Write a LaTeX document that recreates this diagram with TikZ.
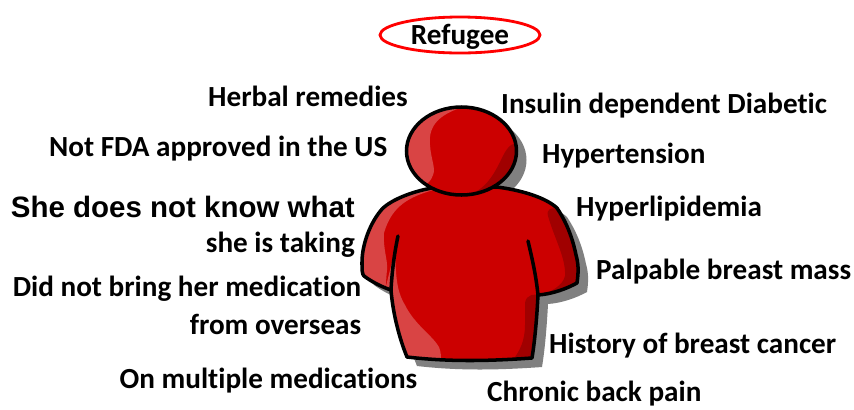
\documentclass[tikz,border=0pt]{standalone}
\usepackage{fontspec}
\setmainfont[Ligatures={NoCommon}]{Carlito}
\newfontfamily\arialfont{Liberation Sans}
\definecolor{bodyred}{HTML}{CC0000}
\definecolor{lightred}{HTML}{D94444}
\definecolor{darkred}{HTML}{A00000}
\definecolor{shadowgray}{HTML}{808080}
\tikzset{
  lbl/.style={
    inner sep=0pt,
    yshift=-0.06cm,
    font=\fontsize{24.9}{28}\selectfont\bfseries,
    text=black
  },
  lblleft/.style={lbl, anchor=east},
  lblright/.style={lbl, anchor=west},
  lblarial/.style={
    inner sep=0pt,
    anchor=east,
    font=\arialfont\fontsize{25.15}{28}\selectfont\bfseries
  },
  ring/.style={
    draw=red,
    line width=2.4pt,
    ellipse,
    fill=white
  },
  headpath/.style={
    insert path={(461.5,151) ellipse [x radius=55, y radius=44]}
  },
  bodypath/.style={
    insert path={
      (432,188) .. controls (410,192) and (392,200) .. (383,208)
      .. controls (370,222) and (362,245) .. (362,262)
      .. controls (362,270) and (362,274) .. (364,276)
      .. controls (372,282) and (382,287) .. (391,290)
      .. controls (393,315) and (400,340) .. (407,357)
      .. controls (450,362) and (490,361) .. (532,358)
      .. controls (535,340) and (537,315) .. (538,295)
      .. controls (552,294) and (566,289) .. (577,283)
      .. controls (579,270) and (578,262) .. (576,255)
      .. controls (572,235) and (565,220) .. (557,208)
      .. controls (545,197) and (520,190) .. (497,187) -- cycle
    }
  },
  outline/.style={draw=black, line width=3pt, line join=round, line cap=round}
}
\usetikzlibrary{shapes.geometric}
\begin{document}
\begin{tikzpicture}[x=0.03cm, y=-0.03cm]
  \useasboundingbox (0,0) rectangle (854,409);

  % shadow
  \begin{scope}[shift={(10,9)}]
    \fill[shadowgray, bodypath];
    \fill[shadowgray, headpath];
  \end{scope}

  % body
  \fill[bodyred, bodypath];
  \begin{scope}
    \clip[bodypath];
    \fill[lightred] (433,190) .. controls (410,197) and (392,205) .. (384,233)
      .. controls (383,250) and (388,260) .. (387,270)
      .. controls (386,280) and (386,285) .. (385,292) -- (350,290) -- (350,185) -- cycle;
    \fill[lightred] (395,250) .. controls (396,275) and (396,290) .. (405,305)
      .. controls (415,325) and (432,335) .. (439,347)
      .. controls (441,352) and (441,356) .. (441,362) -- (400,362) -- (385,290) -- cycle;
    \fill[darkred] (548,216) .. controls (546,209) and (552,207) .. (556,209)
      -- (590,200) -- (590,295) -- (538,296)
      .. controls (552,292) and (563,285) .. (565,276)
      .. controls (566,258) and (555,240) .. (548,216) -- cycle;
    \fill[darkred] (525,303) .. controls (526,294) and (536,293) .. (540,296)
      -- (545,362) -- (511,362)
      .. controls (520,352) and (525,340) .. (525,325) -- cycle;
  \end{scope}
  \draw[outline, bodypath];
  \draw[outline] (398,236) .. controls (394,255) and (392,272) .. (391,290);
  \draw[outline] (528,241) .. controls (532,258) and (536,275) .. (538,295);

  % head
  \fill[bodyred, headpath];
  \begin{scope}
    \clip[headpath];
    \fill[lightred] (460,108) .. controls (440,115) and (428,125) .. (430,145)
      .. controls (431,160) and (436,168) .. (433,175)
      .. controls (431,181) and (428,183) .. (425,185) -- (390,190) -- (390,100) -- cycle;
    \fill[darkred] (517,143) .. controls (508,144) and (505,152) .. (500,162)
      .. controls (492,178) and (485,188) .. (470,195) -- (530,200) -- (530,140) -- cycle;
  \end{scope}
  \draw[outline, headpath];

  \node[ring, minimum width=160*0.03cm, minimum height=36*0.03cm, inner sep=0pt] (refugeering) at (460,35) {};
  \node[lbl] (refugee) at (460,35) {Refugee};

  \node[lblleft] (herbal) at (408,94) {Herbal remedies};
  \node[lblleft] (fda) at (387.5,147) {Not FDA approved in the US};
  \node[lblarial] (knowa) at (355,207) {She does not know what};
  \node[lblleft] (knowb) at (355,243) {she is taking};
  \node[lblleft] (brouga) at (361.5,287) {Did not bring her medication};
  \node[lblleft] (brougb) at (361.5,322) {from overseas};
  \node[lblleft] (multi) at (417.5,379) {On multiple medications};

  \node[lblright] (insulin) at (501,104) {Insulin dependent Diabetic};
  \node[lblright] (hypert) at (542,154) {Hypertension};
  \node[lblright] (hyperl) at (576,207) {Hyperlipidemia};
  \node[lblright] (breast) at (596,270) {Palpable breast mass};
  \node[lblright] (cancer) at (549,344) {History of breast cancer};
  \node[lblright] (back) at (487,392) {Chronic back pain};
\end{tikzpicture}
\end{document}
